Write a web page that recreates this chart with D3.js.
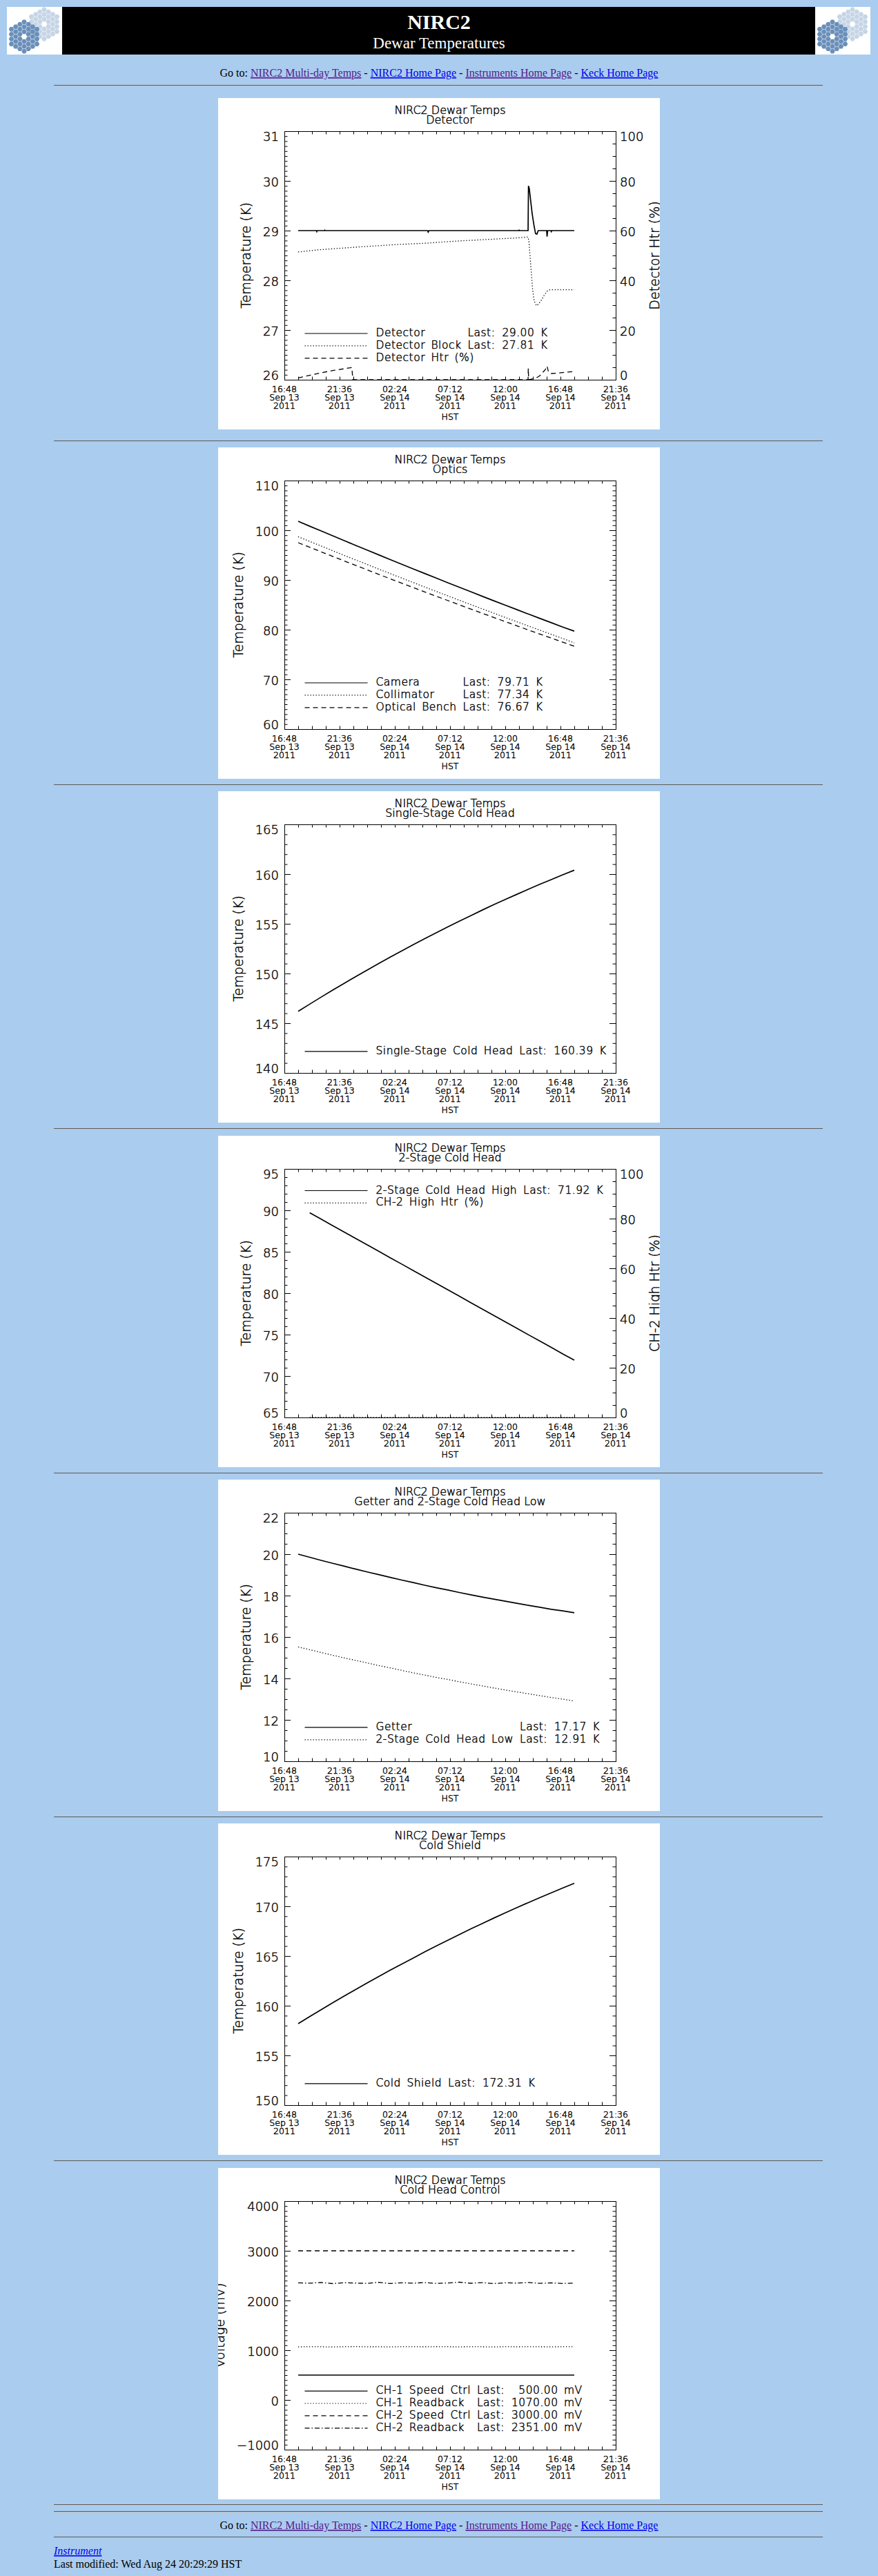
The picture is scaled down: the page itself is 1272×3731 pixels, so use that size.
<!DOCTYPE html>
<html>
<head>
<meta charset="utf-8">
<title>NIRC2 Dewar Temperatures</title>
<script src="https://cdn.jsdelivr.net/npm/d3@7/dist/d3.min.js"></script>
<style>
html,body{margin:0;padding:0;background:#AACCEE;overflow:hidden;}
svg{display:block;}
.idl{font-family:'DejaVu Sans', Verdana, sans-serif;font-weight:200;stroke:#000;stroke-width:0.45px;}
</style>
</head>
<body>
<svg id="page"></svg>
<script>
// ================= DATA =================
const xTickTimes = ["2011-09-13 16:48","2011-09-13 21:36","2011-09-14 02:24","2011-09-14 07:12","2011-09-14 12:00","2011-09-14 16:48","2011-09-14 21:36"];
const xAxisTitle = "HST";
const plotTitle = "NIRC2 Dewar Temps";

const hourlyTimes = ["2011-09-13 18:00","2011-09-13 19:00","2011-09-13 20:00","2011-09-13 21:00","2011-09-13 22:00","2011-09-13 23:00",
  "2011-09-14 00:00","2011-09-14 01:00","2011-09-14 02:00","2011-09-14 03:00","2011-09-14 04:00","2011-09-14 05:00",
  "2011-09-14 06:00","2011-09-14 07:00","2011-09-14 08:00","2011-09-14 09:00","2011-09-14 10:00","2011-09-14 11:00",
  "2011-09-14 12:00","2011-09-14 13:00","2011-09-14 14:00","2011-09-14 15:00","2011-09-14 16:00","2011-09-14 17:00","2011-09-14 18:00"];

// Panel 1 - Detector
const detectorTimes = ["2011-09-13 18:00","2011-09-13 19:35","2011-09-13 19:37","2011-09-13 19:39","2011-09-13 20:17","2011-09-13 20:19","2011-09-13 20:21",
  "2011-09-14 05:15","2011-09-14 05:18","2011-09-14 05:22","2011-09-14 13:10","2011-09-14 13:12","2011-09-14 13:14","2011-09-14 13:59","2011-09-14 14:01",
  "2011-09-14 14:05","2011-09-14 14:12","2011-09-14 14:20","2011-09-14 14:30","2011-09-14 14:38","2011-09-14 14:45","2011-09-14 14:52","2011-09-14 15:36",
  "2011-09-14 15:38","2011-09-14 15:41","2011-09-14 15:58","2011-09-14 16:00","2011-09-14 16:03","2011-09-14 18:00"];
const detectorValues = [29.00,29.00,28.98,29.00,29.00,29.01,29.00,29.00,28.97,29.00,29.00,29.01,29.00,29.00,29.90,29.85,29.62,29.35,29.10,28.94,28.93,29.00,29.00,28.88,29.00,29.00,28.98,29.00,29.00];
const blockTimes = ["2011-09-13 18:00","2011-09-13 19:37","2011-09-13 21:21","2011-09-13 23:50","2011-09-14 02:34","2011-09-14 05:19","2011-09-14 07:48",
  "2011-09-14 10:17","2011-09-14 12:46","2011-09-14 13:58","2011-09-14 14:03","2011-09-14 14:08","2011-09-14 14:16","2011-09-14 14:23","2011-09-14 14:31",
  "2011-09-14 14:43","2011-09-14 14:53","2011-09-14 15:08","2011-09-14 15:23","2011-09-14 15:38","2011-09-14 15:53","2011-09-14 18:00"];
const blockValues = [28.57,28.61,28.64,28.68,28.72,28.75,28.79,28.82,28.85,28.87,28.80,28.55,28.15,27.80,27.58,27.49,27.52,27.60,27.70,27.78,27.81,27.81];
const htrTimes = ["2011-09-13 18:00","2011-09-13 19:00","2011-09-13 20:00","2011-09-13 21:00","2011-09-13 22:40","2011-09-13 22:45","2011-09-14 13:59",
  "2011-09-14 14:00","2011-09-14 14:02","2011-09-14 14:36","2011-09-14 15:00","2011-09-14 15:28","2011-09-14 15:38","2011-09-14 15:45","2011-09-14 16:00",
  "2011-09-14 16:30","2011-09-14 17:10","2011-09-14 18:00"];
const htrValues = [0.7,1.8,2.8,3.7,4.9,0,0,4.6,0,0.5,1.6,4.0,5.5,3.2,2.5,2.6,3.0,3.3];

// Panel 2 - Optics
const cameraTemp = [101.80,100.82,99.85,98.88,97.91,96.95,96.00,95.05,94.10,93.16,92.23,91.30,90.37,89.45,88.54,87.63,86.72,85.82,84.93,84.04,83.15,82.27,81.40,80.53,79.71];
const collimatorTemp = [98.70,97.76,96.82,95.88,94.95,94.03,93.11,92.19,91.28,90.38,89.48,88.58,87.69,86.81,85.93,85.05,84.18,83.32,82.46,81.60,80.75,79.91,79.07,78.23,77.34];
const benchTemp = [97.50,96.58,95.66,94.74,93.83,92.93,92.03,91.13,90.24,89.36,88.48,87.60,86.73,85.87,85.01,84.15,83.30,82.46,81.62,80.78,79.95,79.13,78.31,77.49,76.67];

// Panel 3 - Single-Stage Cold Head
const singleStageTemp = [146.20,146.92,147.63,148.33,149.01,149.69,150.35,151.00,151.65,152.28,152.90,153.50,154.10,154.69,155.26,155.82,156.38,156.92,157.45,157.96,158.47,158.97,159.45,159.93,160.39];

// Panel 4 - 2-Stage Cold Head (starts 19:00)
const twoStageHighTimes = hourlyTimes.slice(1);
const twoStageHighTemp = [89.70,88.93,88.15,87.38,86.60,85.83,85.06,84.28,83.51,82.73,81.96,81.19,80.41,79.64,78.86,78.09,77.32,76.54,75.77,74.99,74.22,73.45,72.67,71.92];
const ch2HighHtr = [0,0,0,0,0,0,0,0,0,0,0,0,0,0,0,0,0,0,0,0,0,0,0,0];

// Panel 5 - Getter and 2-Stage Cold Head Low
const getterTemp = [20.00,19.85,19.70,19.56,19.42,19.28,19.14,19.01,18.88,18.75,18.63,18.50,18.38,18.27,18.15,18.04,17.93,17.83,17.73,17.63,17.53,17.44,17.34,17.26,17.17];
const twoStageLowTemp = [15.52,15.39,15.25,15.12,14.99,14.87,14.75,14.62,14.51,14.39,14.27,14.16,14.05,13.95,13.84,13.74,13.64,13.54,13.44,13.35,13.26,13.17,13.08,13.00,12.91];

// Panel 6 - Cold Shield
const coldShieldTemp = [158.20,158.91,159.60,160.29,160.97,161.63,162.29,162.93,163.57,164.19,164.80,165.41,166.00,166.58,167.16,167.72,168.27,168.81,169.34,169.86,170.37,170.87,171.36,171.84,172.31];

// Panel 7 - Cold Head Control
const ch1SpeedCtrl = [500,500,500,500,500,500,500,500,500,500,500,500,500,500,500,500,500,500,500,500,500,500,500,500,500];
const ch1Readback = [1068,1072,1070,1066,1071,1074,1069,1070,1067,1072,1071,1069,1073,1070,1068,1071,1070,1066,1072,1069,1071,1070,1068,1071,1070];
const ch2SpeedCtrl = [3000,3000,3000,3000,3000,3000,3000,3000,3000,3000,3000,3000,3000,3000,3000,3000,3000,3000,3000,3000,3000,3000,3000,3000,3000];
const ch2Readback = [2355,2348,2362,2340,2358,2351,2345,2366,2342,2357,2349,2361,2344,2353,2368,2347,2359,2341,2356,2350,2363,2346,2354,2343,2351];

// Page text
const pageTitle = "NIRC2";
const pageSubtitle = "Dewar Temperatures";
const navLinks = [
  {text:"NIRC2 Multi-day Temps", visited:true},
  {text:"NIRC2 Home Page", visited:false},
  {text:"Instruments Home Page", visited:true},
  {text:"Keck Home Page", visited:false}
];
const footerLink = "Instrument";
const footerModified = "Last modified: Wed Aug 24 20:29:29 HST";

// ================= PANEL DEFINITIONS =================
const panels = [
  {sub:"Detector", yDomain:[26,31], yStep:1, yMinor:10, yTitle:"Temperature (K)",
   y2:{domain:[0,100], step:20, minor:4, title:"Detector Htr (%)"}, legend:"bottom",
   series:[
     {name:"Detector", t:detectorTimes, v:detectorValues, dash:"solid", unit:"K"},
     {name:"Detector Block", t:blockTimes, v:blockValues, dash:"dotted", unit:"K"},
     {name:"Detector Htr (%)", t:htrTimes, v:htrValues, dash:"dashed", axis2:true}
   ]},
  {sub:"Optics", yDomain:[60,110], yStep:10, yMinor:10, yTitle:"Temperature (K)", legend:"bottom",
   series:[
     {name:"Camera", t:hourlyTimes, v:cameraTemp, dash:"solid", unit:"K"},
     {name:"Collimator", t:hourlyTimes, v:collimatorTemp, dash:"dotted", unit:"K"},
     {name:"Optical Bench", t:hourlyTimes, v:benchTemp, dash:"dashed", unit:"K"}
   ]},
  {sub:"Single-Stage Cold Head", yDomain:[140,165], yStep:5, yMinor:5, yTitle:"Temperature (K)", legend:"bottom",
   series:[
     {name:"Single-Stage Cold Head", t:hourlyTimes, v:singleStageTemp, dash:"solid", unit:"K"}
   ]},
  {sub:"2-Stage Cold Head", yDomain:[65,95], yStep:5, yMinor:5, yTitle:"Temperature (K)",
   y2:{domain:[0,100], step:20, minor:4, title:"CH-2 High Htr (%)"}, legend:"top",
   series:[
     {name:"2-Stage Cold Head High", t:twoStageHighTimes, v:twoStageHighTemp, dash:"solid", unit:"K"},
     {name:"CH-2 High Htr (%)", t:twoStageHighTimes, v:ch2HighHtr, dash:"dotted", axis2:true}
   ]},
  {sub:"Getter and 2-Stage Cold Head Low", yDomain:[10,22], yStep:2, yMinor:4, yTitle:"Temperature (K)", legend:"bottom",
   series:[
     {name:"Getter", t:hourlyTimes, v:getterTemp, dash:"solid", unit:"K"},
     {name:"2-Stage Cold Head Low", t:hourlyTimes, v:twoStageLowTemp, dash:"dotted", unit:"K"}
   ]},
  {sub:"Cold Shield", yDomain:[150,175], yStep:5, yMinor:5, yTitle:"Temperature (K)", legend:"bottom",
   series:[
     {name:"Cold Shield", t:hourlyTimes, v:coldShieldTemp, dash:"solid", unit:"K"}
   ]},
  {sub:"Cold Head Control", yDomain:[-1000,4000], yStep:1000, yMinor:10, yTitle:"Voltage (mV)", legend:"bottom",
   series:[
     {name:"CH-1 Speed Ctrl", t:hourlyTimes, v:ch1SpeedCtrl, dash:"solid", unit:"mV"},
     {name:"CH-1 Readback", t:hourlyTimes, v:ch1Readback, dash:"dotted", unit:"mV"},
     {name:"CH-2 Speed Ctrl", t:hourlyTimes, v:ch2SpeedCtrl, dash:"dashed", unit:"mV"},
     {name:"CH-2 Readback", t:hourlyTimes, v:ch2Readback, dash:"dashdot", unit:"mV"}
   ]}
];

// ================= LAYOUT =================
const W = 1272, H = 3731;
const PX = 316, PW = 640, PH = 480;
const panelTops = [142, 648, 1146, 1645, 2143, 2641, 3140];
const L = 96, R = 576, T = 48, B = 408;
const SERIF = "'Liberation Serif', 'Times New Roman', Times, serif";
const INK = "#000";
const DASH = {solid:null, dotted:"1.3,2.7", dashed:"7,5", dashdot:"7,3,1.5,3"};

const parseT = d3.utcParse("%Y-%m-%d %H:%M");
const svg = d3.select("#page").attr("width", W).attr("height", H)
  .attr("xmlns", "http://www.w3.org/2000/svg");
const defs = svg.append("defs");

// ---------- header ----------
svg.append("rect").attr("x",10).attr("y",10).attr("width",1251).attr("height",69).attr("fill","#000");
function drawMirror(g, cx, cy, s, fill){
  const cells = [];
  for (let q=-3;q<=3;q++) for (let r=-3;r<=3;r++){
    const ring = Math.max(Math.abs(q),Math.abs(r),Math.abs(q+r));
    if (ring>=1 && ring<=3) cells.push([cx + s*1.5*q, cy + s*Math.sqrt(3)*(r+q/2)]);
  }
  const hex = d3.range(6).map(k=>[Math.cos(k*Math.PI/3)*s*0.93, Math.sin(k*Math.PI/3)*s*0.93]);
  g.selectAll(null).data(cells).join("polygon")
    .attr("points", d=>hex.map(p=>[(d[0]+p[0]).toFixed(2),(d[1]+p[1]).toFixed(2)].join(",")).join(" "))
    .attr("fill", fill);
}
function drawLogo(x0,y0){
  const g = svg.append("g").attr("transform",`translate(${x0},${y0})`);
  g.append("rect").attr("width",80).attr("height",69).attr("fill","#fff");
  drawMirror(g, 54, 25, 4.1, "#C6D5E6");
  drawMirror(g, 25, 43, 4.1, "#6A8FBA");
}
drawLogo(10,10);
drawLogo(1181,10);
svg.append("text").attr("x",636).attr("y",41.5).attr("text-anchor","middle")
  .style("font-family",SERIF).style("font-size","30px").style("font-weight","bold").attr("fill","#fff").text(pageTitle);
svg.append("text").attr("x",636).attr("y",70).attr("text-anchor","middle")
  .style("font-family",SERIF).style("font-size","23px").attr("fill","#fff").text(pageSubtitle);

function navLine(y){
  const t = svg.append("text").attr("x",636).attr("y",y).attr("text-anchor","middle")
    .style("font-family",SERIF).style("font-size","16px").attr("fill","#000");
  t.append("tspan").text("Go to: ");
  navLinks.forEach((l,i)=>{
    if (i) t.append("tspan").attr("fill","#000").text(" - ");
    t.append("tspan").attr("fill", l.visited ? "#551A8B" : "#0000EE")
      .style("text-decoration","underline").text(l.text);
  });
}
function hr(y){
  svg.append("rect").attr("x",78).attr("y",y-1).attr("width",1114).attr("height",1).attr("fill","#5c5c5c");
  svg.append("rect").attr("x",78).attr("y",y).attr("width",1114).attr("height",1).attr("fill","#c4c4c4");
}
navLine(111);
hr(124);

// ---------- panels ----------
const xDomain = [parseT(xTickTimes[0]), parseT(xTickTimes[xTickTimes.length-1])];
const majorTimes = xTickTimes.map(parseT);
const minorTimes = [];
for (let i=0;i<majorTimes.length-1;i++){
  const a = majorTimes[i].getTime(), b = majorTimes[i+1].getTime();
  for (let k=0;k<4;k++) minorTimes.push(new Date(a + (b-a)*k/4));
}
minorTimes.push(majorTimes[majorTimes.length-1]);
const fmtHM = d3.utcFormat("%H:%M"), fmtMD = d3.utcFormat("%b %d"), fmtY = d3.utcFormat("%Y");
const fmtVal = d3.format(".2f");

function stepValues(domain, step){
  const n = Math.round((domain[1]-domain[0])/step);
  return d3.range(n+1).map(k => +(domain[0] + k*step).toFixed(6));
}

panels.forEach((p, i) => {
  const top = panelTops[i];
  const cid = "clip" + i;
  defs.append("clipPath").attr("id", cid).append("rect").attr("width", PW).attr("height", PH);
  const g = svg.append("g").attr("transform", `translate(${PX},${top})`).attr("clip-path", `url(#${cid})`);
  g.append("rect").attr("width", PW).attr("height", PH).attr("fill", "#fff");

  const x = d3.scaleUtc().domain(xDomain).range([L, R]);
  const y = d3.scaleLinear().domain(p.yDomain).range([B, T]);
  const y2 = p.y2 ? d3.scaleLinear().domain(p.y2.domain).range([B, T]) : null;

  // titles
  const tt = g.append("g").attr("class","idl").style("font-size", "16px").attr("fill", INK).attr("text-anchor","middle");
  tt.append("text").attr("x", (L+R)/2).attr("y", 17.7).attr("dominant-baseline","central").text(plotTitle);
  tt.append("text").attr("x", (L+R)/2).attr("y", 31.9).attr("dominant-baseline","central").text(p.sub);

  // data lines
  const plot = g.append("g");
  p.series.forEach(s => {
    const ys = s.axis2 ? y2 : y;
    const pts = s.t.map((tt, k) => [parseT(tt), s.v[k]]);
    const line = d3.line().x(d => x(d[0])).y(d => ys(d[1]));
    plot.append("path").datum(pts).attr("d", line).attr("fill", "none").attr("stroke", "#000")
      .attr("stroke-width", s.dash === "solid" ? 1.7 : 1.3)
      .attr("stroke-dasharray", DASH[s.dash]);
  });

  // frame
  g.append("rect").attr("x", L+0.5).attr("y", T+0.5).attr("width", R-L).attr("height", B-T)
    .attr("fill", "none").attr("stroke", "#000").attr("stroke-width", 1);

  // x ticks (inward) bottom & top
  const axB = d3.axisBottom(x).tickValues(minorTimes).tickSize(-4.5).tickSizeOuter(0).tickFormat("");
  const axT = d3.axisTop(x).tickValues(minorTimes).tickSize(-4.5).tickSizeOuter(0).tickFormat("");
  g.append("g").attr("transform", `translate(0,${B})`).call(axB).call(a => a.select(".domain").remove());
  g.append("g").attr("transform", `translate(0,${T})`).call(axT).call(a => a.select(".domain").remove());

  // y ticks
  function yTicks(scale, step, minor, side){
    const majors = stepValues(scale.domain(), step);
    const minors = stepValues(scale.domain(), step/minor);
    const mk = side === "left" ? d3.axisLeft : d3.axisRight;
    const xpos = side === "left" ? L : R;
    g.append("g").attr("transform", `translate(${xpos},0)`)
      .call(mk(scale).tickValues(minors).tickSize(-4.5).tickSizeOuter(0).tickFormat(""))
      .call(a => a.select(".domain").remove());
    g.append("g").attr("transform", `translate(${xpos},0)`)
      .call(mk(scale).tickValues(majors).tickSize(-9).tickSizeOuter(0).tickFormat(""))
      .call(a => a.select(".domain").remove());
    return majors;
  }
  const leftMajors = yTicks(y, p.yStep, p.yMinor, "left");
  if (p.y2) yTicks(y2, p.y2.step, p.y2.minor, "right");
  else yTicks(y, p.yStep, p.yMinor, "right");
  g.selectAll(".tick line").attr("stroke", "#000");

  const clampY = v => Math.min(Math.max(v, T + 7), B - 7);
  const fmtTick = d3.format("d");
  // left labels
  const yl = g.append("g").attr("class","idl").style("font-size", "18px").attr("fill", INK);
  const leftLabels = yl.selectAll(null).data(leftMajors).join("text")
    .attr("x", L - 8).attr("y", d => clampY(y(d) + 1)).attr("text-anchor", "end")
    .attr("dominant-baseline", "central").text(d => fmtTick(d));
  let maxLW = 0; leftLabels.each(function(){ maxLW = Math.max(maxLW, this.getComputedTextLength()); });
  g.append("text").attr("class","idl").attr("transform", `translate(${L - 8 - maxLW - 18},${(T+B)/2}) rotate(-90)`)
    .attr("text-anchor", "middle").style("font-size", "19px").attr("fill", INK)
    .text(p.yTitle);

  if (p.y2){
    const r2 = stepValues(p.y2.domain, p.y2.step);
    const rl = g.append("g").attr("class","idl").style("font-size", "18px").attr("fill", INK);
    const rLabels = rl.selectAll(null).data(r2).join("text")
      .attr("x", R + 6).attr("y", d => clampY(y2(d) + 1)).attr("dominant-baseline", "central").text(d => fmtTick(d));
    let maxRW = 0; rLabels.each(function(){ maxRW = Math.max(maxRW, this.getComputedTextLength()); });
    g.append("text").attr("class","idl").attr("transform", `translate(${R + 6 + maxRW + 23},${(T+B)/2}) rotate(-90)`)
      .attr("text-anchor", "middle").style("font-size", "19px").attr("fill", INK)
      .text(p.y2.title);
  }

  // x labels
  const xl = g.append("g").attr("class","idl").style("font-size", "12.5px").attr("fill", INK).attr("text-anchor","middle");
  majorTimes.forEach(d => {
    const cx = x(d);
    xl.append("text").attr("x", cx).attr("y", B + 13.3).attr("dominant-baseline","central").text(fmtHM(d));
    xl.append("text").attr("x", cx).attr("y", B + 25.5).attr("dominant-baseline","central").text(fmtMD(d));
    xl.append("text").attr("x", cx).attr("y", B + 37.6).attr("dominant-baseline","central").text(fmtY(d));
  });
  xl.append("text").attr("x", (L+R)/2).attr("y", B + 53.3).attr("dominant-baseline","central").text(xAxisTitle);

  // legend
  const n = p.series.length;
  const rowY = k => p.legend === "bottom" ? (B - 32.2) - (n - 1 - k) * 17.9 : (T + 30.5) + k * 17.9;
  const lg = g.append("g").attr("class","idl").style("font-size", "15.5px")
    .style("letter-spacing", "0.5px").style("word-spacing", "3px").attr("fill", INK);
  const nameX = L + 132.5;
  let maxNameW = 0;
  p.series.forEach((s, k) => {
    const yy = rowY(k);
    lg.append("line").attr("x1", L + 29.5).attr("x2", L + 120.5).attr("y1", yy + 1).attr("y2", yy + 1)
      .style("stroke", "#000").style("stroke-width", "1.2px").attr("stroke-dasharray", DASH[s.dash]);
    const t = lg.append("text").attr("x", nameX).attr("y", yy).attr("dominant-baseline", "central").text(s.name);
    if (s.unit) maxNameW = Math.max(maxNameW, t.node().getComputedTextLength());
  });
  const lastX = nameX + maxNameW + 9;
  const valStrings = p.series.map(s => s.unit ? fmtVal(s.v[s.v.length - 1]) + " " + s.unit : null);
  let lastW = 0, maxValW = 0;
  p.series.forEach((s, k) => {
    if (!s.unit) return;
    const t = lg.append("text").attr("x", lastX).attr("y", rowY(k)).attr("dominant-baseline", "central").text("Last:");
    lastW = t.node().getComputedTextLength();
  });
  const tmpVals = [];
  p.series.forEach((s, k) => {
    if (!s.unit) return;
    const t = lg.append("text").attr("y", rowY(k)).attr("dominant-baseline", "central")
      .attr("text-anchor", "end").text(valStrings[k]);
    maxValW = Math.max(maxValW, t.node().getComputedTextLength());
    tmpVals.push(t);
  });
  const valEnd = lastX + lastW + 10 + maxValW;
  tmpVals.forEach(t => t.attr("x", valEnd));
});

// hrs between panels
[639, 1137, 1635, 2134, 2632, 3130, 3628].forEach(hr);

// ---------- footer ----------
hr(3638);
navLine(3663);
hr(3675);
svg.append("text").attr("x", 78).attr("y", 3700)
  .style("font-family", SERIF).style("font-size", "16px").style("font-style", "italic")
  .style("text-decoration", "underline").attr("fill", "#0000EE").text(footerLink);
svg.append("text").attr("x", 78).attr("y", 3718.5)
  .style("font-family", SERIF).style("font-size", "16px").attr("fill", "#000").text(footerModified);
</script>
</body>
</html>
